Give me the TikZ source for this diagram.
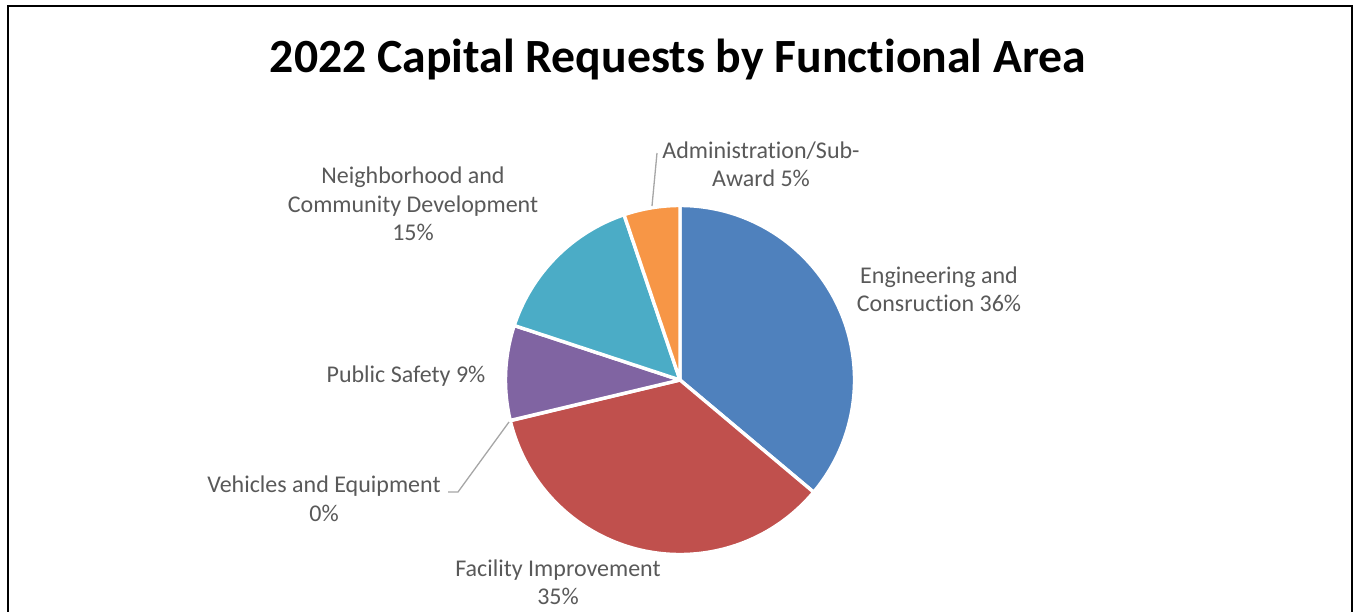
\documentclass[tikz,border=0pt]{standalone}
\usepackage{fontspec}
\setmainfont{Carlito}[Ligatures={NoCommon}]
\definecolor{engblue}{HTML}{4F81BD}
\definecolor{facred}{HTML}{C0504D}
\definecolor{psviolet}{HTML}{8064A2}
\definecolor{ncteal}{HTML}{4BACC6}
\definecolor{admorange}{HTML}{F79646}
\definecolor{vehgreen}{HTML}{9BBB59}
\definecolor{labelgray}{HTML}{595959}
\definecolor{leadergray}{HTML}{A6A6A6}
\newcommand{\twoline}[2]{\begin{tabular}[t]{@{}c@{}}#1\\#2\end{tabular}}
\newcommand{\threeline}[3]{\begin{tabular}[t]{@{}c@{}}#1\\#2\\#3\end{tabular}}
\begin{document}
\begin{tikzpicture}[x=1pt,y=1pt,
  slice/.style={draw=white, line width=3.4pt, line join=round},
  lbl/.style={anchor=base, inner sep=0pt, text=labelgray, font=\fontsize{24}{28.6}\selectfont},
  leader/.style={draw=leadergray, line width=1.3pt},
  frame/.style={draw=black, line width=2pt}]
\useasboundingbox (0,0) rectangle (1353,-611);
\draw[frame] (8,-612) -- (8,-6) -- (1352,-6) -- (1352,-612);
\node[anchor=base, inner sep=0pt, font=\fontsize{47.7}{56}\selectfont\bfseries] (title) at (678,-72) {2022 Capital Requests by Functional Area};
\coordinate (c) at (680,-380);
\def\R{174.5}
\filldraw[slice, fill=engblue]   (c) -- ++(90:\R) arc[start angle=90, end angle=-40, radius=\R] -- cycle;
\filldraw[slice, fill=facred]    (c) -- ++(-40:\R) arc[start angle=-40, end angle=-166.5, radius=\R] -- cycle;
\filldraw[slice, fill=psviolet]  (c) -- ++(-166.6:\R) arc[start angle=-166.6, end angle=-198.2, radius=\R] -- cycle;
\filldraw[slice, fill=ncteal]    (c) -- ++(-198.2:\R) arc[start angle=-198.2, end angle=-251.3, radius=\R] -- cycle;
\filldraw[slice, fill=admorange] (c) -- ++(-251.3:\R) arc[start angle=-251.3, end angle=-270, radius=\R] -- cycle;
% labels
\node[lbl] (adm) at (761,-158) {\twoline{Administration/Sub-}{Award 5\%}};
\node[lbl] (nbh) at (413,-183.5) {\threeline{Neighborhood and}{Community Development}{15\%}};
\node[lbl] (eng) at (939,-283) {\twoline{Engineering and}{Consruction 36\%}};
\node[lbl] (pub) at (406,-382) {Public Safety 9\%};
\node[lbl] (veh) at (324,-492.5) {\twoline{Vehicles and Equipment}{0\%}};
\node[lbl] (fac) at (558,-576) {\twoline{Facility Improvement}{35\%}};
% leaders
\coordinate (admA) at (657,-153);
\coordinate (admB) at (652,-206);
\coordinate (vehA) at (448,-492);
\coordinate (vehB) at (458,-492);
\coordinate (vehC) at (509,-422);
\draw[leader] (admA) -- (admB);
\draw[leader] (vehA) -- (vehB) -- (vehC);
\end{tikzpicture}
\end{document}
